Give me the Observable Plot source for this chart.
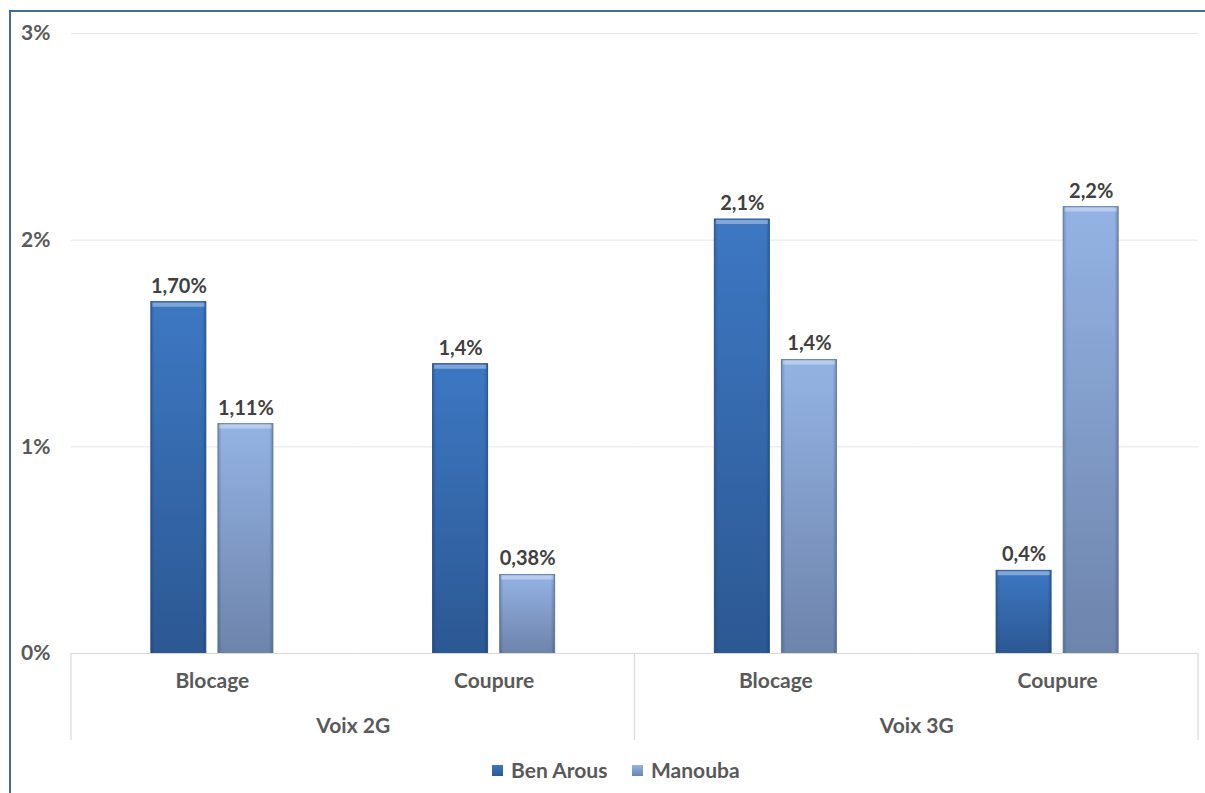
<!DOCTYPE html>
<html>
<head>
<meta charset="utf-8">
<script src="https://cdn.jsdelivr.net/npm/d3@7"></script>
<script src="https://cdn.jsdelivr.net/npm/@observablehq/plot@0.6"></script>
<style>
  html, body { margin: 0; padding: 0; background: #fff; }
  #wrap { position: relative; width: 1205px; height: 793px; overflow: hidden; font-family: Lato, "Open Sans", sans-serif; }
  #border { position: absolute; left: 9px; top: 10px; width: 1300px; height: 900px; border-left: 2px solid #4467a6; border-top: 2px solid #4467a6; box-sizing: border-box; pointer-events: none; }
  #chart { position: absolute; left: 0; top: 0; }
  #legend { position: absolute; left: 0; top: 752px; width: 1205px; height: 41px; }
  .lg { position: absolute; top: 7px; display: flex; align-items: center; font-weight: 700; font-size: 21px; color: #595959; line-height: 22px; }
  .sw { width: 11px; height: 11px; margin-right: 8px; }
</style>
</head>
<body>
<div id="wrap">
  <div id="chart"></div>
  <div id="legend"></div>
  <div id="border"></div>
</div>
<script>
// ---- data ----
const groups = ["Voix 2G", "Voix 2G", "Voix 3G", "Voix 3G"];
const metrics = ["Blocage", "Coupure", "Blocage", "Coupure"];
const series = ["Ben Arous", "Manouba"];
const benArous = [1.70, 1.4, 2.1, 0.4];
const manouba = [1.11, 0.38, 1.42, 2.16];
const benArousLabels = ["1,70%", "1,4%", "2,1%", "0,4%"];
const manoubaLabels = ["1,11%", "0,38%", "1,4%", "2,2%"];
const yTicks = [0, 1, 2, 3];

// ---- table built from arrays ----
const keys = metrics.map((m, i) => groups[i] + " – " + m);
const rows = [];
keys.forEach((k, i) => {
  rows.push({key: k, series: series[0], value: benArous[i], label: benArousLabels[i]});
  rows.push({key: k, series: series[1], value: manouba[i], label: manoubaLabels[i]});
});
const cats = keys.map((k, i) => ({key: k, metric: metrics[i]}));
const groupFirst = [...new Set(groups)].map(g => ({group: g, key: keys[groups.indexOf(g)]}));

const W = 1205, H = 752;
const chart = Plot.plot({
  width: W,
  height: H,
  marginLeft: 71,
  marginRight: 7,
  marginTop: 33,
  marginBottom: 99,
  style: {fontFamily: "Lato, 'Open Sans', sans-serif", background: "transparent", overflow: "visible"},
  fx: {domain: keys, padding: 0, round: false, axis: null, label: null},
  x: {domain: series, paddingInner: 0.18, paddingOuter: 1.19, round: false, axis: null, label: null},
  y: {domain: [0, 3], ticks: yTicks, tickFormat: d => d + "%", tickSize: 0, tickPadding: 21, label: null},
  color: {domain: series, range: ["url(#gBA)", "url(#gM)"]},
  marks: [
    Plot.ruleY(yTicks.slice(1), {stroke: "#e6e6e6", strokeWidth: 1}),
    Plot.barY(rows, {fx: "key", x: "series", y: "value", fill: "series", stroke: d => d.series === series[0] ? "#2d5a96" : "#6f86ae", strokeWidth: 1}),
    Plot.barY(rows, {fx: "key", x: "series", y: "value", fill: "url(#bevel)"}),
    Plot.tickY(rows, {fx: "key", x: "series", y: "value", stroke: "rgba(255,255,255,0.35)", strokeWidth: 4, dy: 2.5, insetLeft: 1.5, insetRight: 1.5}),
    Plot.ruleY([0], {stroke: "#d9d9d9", strokeWidth: 1.2}),
    Plot.text(rows, {fx: "key", x: "series", y: "value", text: "label", dy: -16, fontSize: 20, fontWeight: 700, fill: "#404040"}),
    Plot.text(cats, {fx: "key", text: "metric", frameAnchor: "bottom", dy: 34, fontSize: 21, fontWeight: 700, fill: "#595959"}),
    Plot.text(groupFirst, {fx: "key", text: "group", frameAnchor: "bottom-right", textAnchor: "middle", dy: 79, fontSize: 21, fontWeight: 700, fill: "#595959"})
  ]
});

// style y axis labels
d3.select(chart).selectAll("g[aria-label='y-axis tick label']")
  .attr("font-size", 21).attr("font-weight", 700).attr("fill", "#595959");

// gradients
const defs = d3.select(chart).insert("defs", ":first-child");
function vgrad(id, top, bottom) {
  const g = defs.append("linearGradient").attr("id", id).attr("x1", 0).attr("y1", 0).attr("x2", 0).attr("y2", 1);
  g.append("stop").attr("offset", "0%").attr("stop-color", top);
  g.append("stop").attr("offset", "100%").attr("stop-color", bottom);
}
vgrad("gBA", "#3d78c3", "#2c5893");
vgrad("gM", "#94b3e4", "#6d84ab");
const bev = defs.append("linearGradient").attr("id", "bevel").attr("x1", 0).attr("y1", 0).attr("x2", 1).attr("y2", 0);
[["0%", 0.22], ["7%", 0], ["93%", 0], ["100%", 0.25]].forEach(([o, a]) =>
  bev.append("stop").attr("offset", o).attr("stop-color", "#0a1f40").attr("stop-opacity", a));

// group separators of the two-level category axis, placed with the fx scale
const fx = chart.scale("fx");
const y = chart.scale("y");
const y0 = y.apply(0);
const edges = [];
groupFirst.forEach(g => edges.push(fx.apply(g.key)));
edges.push(fx.apply(keys[keys.length - 1]) + fx.bandwidth);
d3.select(chart).append("g").selectAll("line").data(edges).join("line")
  .attr("x1", d => d).attr("x2", d => d)
  .attr("y1", y0).attr("y2", y0 + 87)
  .attr("stroke", "#d9d9d9").attr("stroke-width", 1.2);

document.getElementById("chart").appendChild(chart);

// legend
const lg = document.getElementById("legend");
const swatches = [["linear-gradient(#3d78c3,#2c5893)", 492], ["linear-gradient(#94b3e4,#6d84ab)", 632]];
series.forEach((s, i) => {
  const item = document.createElement("div");
  item.className = "lg";
  item.style.left = swatches[i][1] + "px";
  const sw = document.createElement("div");
  sw.className = "sw";
  sw.style.background = swatches[i][0];
  item.appendChild(sw);
  item.appendChild(document.createTextNode(s));
  lg.appendChild(item);
});
</script>
</body>
</html>
